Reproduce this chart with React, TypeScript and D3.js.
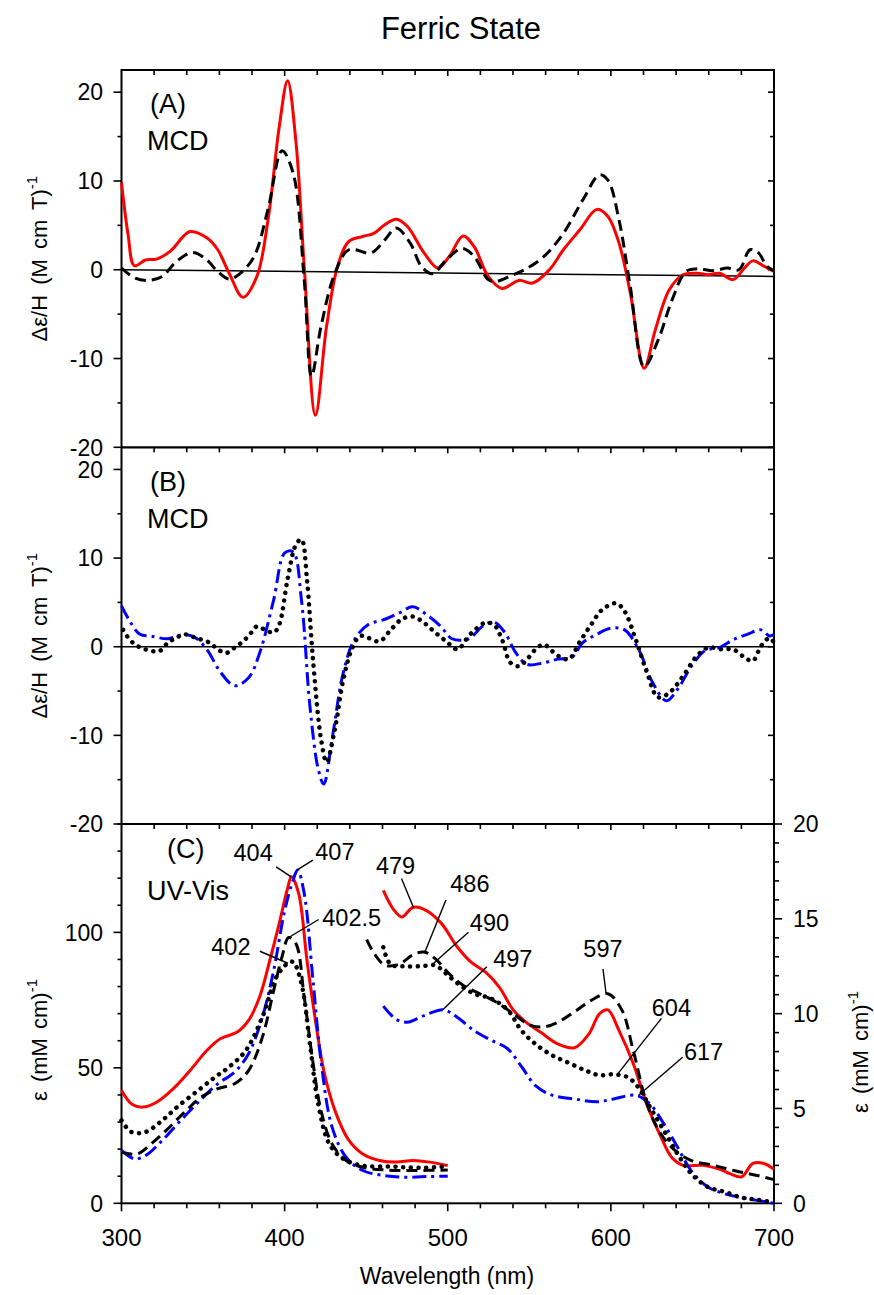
import React from 'react';
import * as d3 from 'd3';

type Pt = [number, number];

// ---- panel A : MCD (red solid, black dashed) ----
const mcdARed: Pt[] = [
  [300, 9.8], [304, 4], [307.9, 0.45], [314.7, 1.1], [321.5, 1.2], [330, 2.1], [342, 4.3], [352.3, 3.6],
  [359, 2.25], [366, -0.4], [374.5, -3.1], [383, -0.75], [389.8, 5.6], [396.7, 16.1], [401.8, 21.3],
  [407, 14.3], [412, 0.4], [418.9, -16.4], [425.7, -6.4], [432.5, 0.4], [439.4, 3.2], [447.9, 3.75],
  [454.7, 4.1], [461.6, 5.1], [468.4, 5.7], [475.2, 4.9], [485.5, 1.9], [494, 0.2], [500.9, 1.5],
  [509.4, 3.8], [516.2, 2.6], [524.8, -0.75], [533.3, -2.1], [543.6, -1.2], [552, -1.5], [562.3, 0],
  [570.9, 2.25], [581, 4.5], [591.4, 6.8], [598.2, 6.0], [605, 3.0], [611.9, -2.6], [620.4, -11.1],
  [627.2, -6.8], [635.8, -2.25], [644.3, -0.56], [652.9, -0.4], [659.7, -0.56], [666.5, -0.4],
  [675, -1.1], [681.9, 0.2], [687, 1.0], [693.8, 0.4], [700, -0.2],
];
const mcdADash: Pt[] = [
  [300, 0.2], [307.9, -0.9], [316.4, -1.2], [325, -0.75], [333.5, 0.9], [343.7, 1.95], [352.3, 1.1],
  [359, -0.2], [366, -1.05], [372.8, -0.4], [381.3, 1.5], [389.8, 6.8], [398.4, 13.4], [405.2, 10.9],
  [412, -1.1], [416.5, -12.0], [422.3, -6.4], [430.8, -0.4], [439.4, 2.25], [453, 1.9], [461.6, 3.4],
  [468.4, 4.7], [477, 3.0], [483.8, 0.4], [490.6, -0.45], [499.1, 1.1], [508.7, 2.4], [516.2, 1.5],
  [524.8, -1.1], [529.9, -1.3], [538.4, -0.7], [547, 0], [559, 1.5], [570.9, 4.1], [582.9, 7.9],
  [593.1, 10.7], [598.2, 10.1], [605, 5.6], [611.9, -1.9], [620.4, -10.9], [629, -7.9], [637.5, -3.4],
  [646, -0.2], [652.9, 0.1], [663, -0.1], [671.5, 0.2], [678.5, 0], [685.3, 2.25], [690.5, 1.9],
  [695.6, 0.4], [700, -0.1],
];
const mcdABase: Pt[] = [[300, 0], [700, -0.75]];

// ---- panel B : MCD (blue dash-dot, black dotted) ----
const mcdBBlue: Pt[] = [
  [300, 4.6], [304.4, 3.1], [311.3, 1.4], [318.1, 1.2], [328.4, 0.9], [338.6, 1.4], [345.4, 1.0],
  [352.3, -0.3], [360.8, -2.9], [369.3, -4.4], [377.9, -3.5], [384.7, -0.7], [393.3, 5.3], [400.1, 10.6],
  [405.2, 10.7], [410.3, 5.3], [415.5, -6.7], [420.6, -13.8], [424, -15.5], [429.1, -10.4], [436, -2.9],
  [442.8, 0.8], [451.3, 2.5], [461.6, 3.1], [470.1, 3.8], [478.6, 4.5], [487.2, 3.6], [495.7, 2.3],
  [502.6, 0.9], [512.8, 0.9], [521.3, 2.3], [528.2, 2.8], [535, 1.6], [541.8, -0.7], [548.7, -2.0],
  [558.9, -1.8], [567.5, -1.4], [576, -1.2], [582.8, 0.45], [591.4, 1.4], [599.9, 2.1], [608.4, 1.9],
  [617, -0.3], [625.5, -4.0], [634, -6.1], [640.9, -4.8], [649.4, -2.2], [657.9, -0.4], [666.5, -0.1],
  [675, 0.8], [683.6, 1.4], [692.1, 1.9], [697.3, 1.2], [700, 1.4],
];
const mcdBDot: Pt[] = [
  [301, 1.9], [305, 0.8], [309.6, 0.1], [314.7, -0.3], [323.2, -0.5], [328.4, 0.45], [333.5, 1.0],
  [338.6, 1.4], [345.4, 1.0], [354, 0.45], [359, -0.3], [364.2, -0.7], [369.3, -0.1], [374.5, 0.6],
  [379.6, 1.6], [383, 2.3], [388.1, 1.9], [393.3, 1.6], [396.7, 2.5], [401.8, 7.6], [406.9, 11.5],
  [410.3, 12.1], [413.7, 7.6], [417.2, -1.0], [422.3, -10.4], [425.7, -13.0], [430.8, -9.3], [436, -3.7],
  [441.1, -0.3], [446.2, 1.2], [451.3, 1.0], [458.2, 0.6], [465, 1.9], [471.8, 3.1], [478.6, 3.4],
  [485.5, 2.7], [492.3, 1.6], [499.1, 0.6], [506, -0.3], [512.8, 1.2], [517.9, 2.1], [523, 2.7],
  [528.2, 2.5], [533.3, 0.8], [538.4, -1.8], [543.6, -2.2], [548.7, -1.4], [553.8, -0.3], [558.9, 0.25],
  [564, -0.5], [569.2, -1.2], [574.3, -1.4], [581.1, 0.6], [587.9, 2.5], [594.8, 4.2], [603.3, 4.9],
  [608.4, 4.0], [615.3, 0.8], [622.1, -2.9], [628.9, -5.7], [635.8, -5.2], [644.3, -3.3], [652.9, -1.0],
  [659.7, -0.1], [668.2, -0.3], [675, -0.3], [681.9, -1.2], [687, -1.6], [692.1, 0.1], [697.3, 1.0],
  [700, 0.45],
];
const mcdBBase: Pt[] = [[300, 0], [700, 0]];

// ---- panel C : UV-Vis, Soret region (left axis, mM^-1 cm^-1) ----
const soretRed: Pt[] = [
  [300, 41.7], [306.1, 36.7], [313, 35.5], [321.5, 37.3], [331.8, 42.3], [342, 49], [352.3, 56.4],
  [360.8, 60.8], [371, 63.2], [377.9, 67.5], [384.7, 76.2], [391.5, 91], [396.7, 103.3], [401.8, 116.2],
  [404.2, 120.5], [408.6, 114.4], [413.7, 89.7], [418.9, 67.5], [424, 49], [430.8, 34.3], [439.4, 23.2],
  [447.9, 18.2], [458.2, 15.8], [468.4, 15.2], [478.6, 15.8], [488.9, 15.2], [500, 13.9],
];
const soretBlue: Pt[] = [
  [300, 19.5], [307.9, 16.4], [314.7, 17.6], [325, 23.2], [335.2, 29.9], [347.1, 37.3], [359, 44.1],
  [369.3, 48.4], [377.9, 55.2], [386.4, 68.8], [393.3, 86], [400.1, 108.2], [405.2, 119.3], [408, 123],
  [412, 114.4], [417.2, 83.6], [422.3, 52.7], [429.1, 28.1], [437.7, 17], [447.9, 12.1], [461.6, 10.2],
  [475.2, 9.6], [488.9, 9.9], [500, 10],
];
const soretDash: Pt[] = [
  [300, 18.9], [309.6, 18.2], [318.1, 21.9], [328.4, 27.5], [338.6, 33.6], [348.9, 39.2], [359, 42.3],
  [369.3, 44.1], [377.9, 49], [386.4, 61.4], [393.3, 78.6], [398.4, 91], [402.5, 98.1], [406.9, 95.9],
  [412, 76.2], [417.2, 52.7], [422.3, 34.3], [429.1, 21.9], [437.7, 15.8], [447.9, 13.3], [461.6, 12.3],
  [478.6, 12.1], [500, 12.3],
];
const soretDot: Pt[] = [
  [300, 30.6], [306.1, 26.3], [314.7, 26.3], [325, 30.6], [335.2, 36.1], [347.1, 41.7], [357.4, 46.6],
  [365.9, 50.3], [376.2, 56.4], [386.4, 68.8], [395, 83.6], [401.8, 88.5], [405.2, 89.1], [410.3, 81.1],
  [415.5, 58.9], [420.6, 36.7], [427.4, 21.9], [436, 16.4], [447.9, 13.9], [465, 13.6], [482.1, 13.1],
  [500, 13.6],
];

// ---- panel C : visible region (right axis, mM^-1 cm^-1) ----
const visRed: Pt[] = [
  [460.5, 16.5], [466.7, 15.5], [471.8, 15.1], [478.6, 15.6], [485.5, 15.5], [495.7, 14.8], [506, 13.5],
  [514.5, 12.7], [523, 12.2], [531.6, 11.4], [540.1, 10.2], [548.7, 9.5], [557.2, 9.0], [567.5, 8.4],
  [577.7, 8.2], [586.3, 8.9], [593.1, 10.0], [598.2, 10.2], [605, 9.1], [613.6, 7.4], [622.1, 5.2],
  [630.7, 3.5], [637.5, 2.4], [644.3, 2.0], [656.3, 2.0], [666.5, 1.8], [673.3, 1.55], [680.2, 1.4],
  [687, 2.1], [693.8, 2.1], [700, 1.8],
];
const visDash: Pt[] = [
  [450.3, 13.9], [454.7, 13.2], [461.6, 12.55], [470.1, 12.6], [478.6, 13.1], [485.5, 13.25], [492.3, 12.9],
  [500.9, 12.1], [509.4, 11.5], [519.6, 11.05], [529.9, 10.6], [540.1, 10.0], [550.4, 9.4], [558.9, 9.3],
  [567.5, 9.55], [577.7, 10.1], [587.9, 10.7], [598.2, 11.05], [606.7, 10.2], [613.6, 8.1], [622.1, 5.25],
  [630.7, 3.65], [639.2, 2.8], [649.4, 2.25], [663, 2.0], [676.7, 1.7], [690.5, 1.45], [700, 1.25],
];
const visDot: Pt[] = [
  [460.5, 13.5], [465, 12.6], [473.5, 12.5], [483.8, 12.5], [492.3, 12.55], [499.1, 12.1], [506, 11.6],
  [516.2, 11.05], [526.5, 10.8], [536.7, 10.2], [545.3, 9.1], [553.8, 8.4], [564, 7.8], [574.3, 7.4],
  [584.5, 7.0], [593.1, 6.75], [601.6, 6.8], [610.2, 6.65], [617, 6.1], [623.8, 5.1], [632.4, 3.85],
  [640.9, 2.6], [649.4, 1.55], [659.7, 0.85], [670, 0.6], [680.2, 0.3], [690.5, 0.18], [700, 0.05],
];
const visBlue: Pt[] = [
  [460.5, 10.4], [468.4, 9.7], [475.2, 9.55], [485.5, 9.9], [497.4, 10.2], [506, 9.8], [516.2, 9.1],
  [526.5, 8.6], [536.7, 8.15], [545.3, 7.2], [553.8, 6.2], [564, 5.7], [577.7, 5.5], [591.4, 5.35],
  [601.6, 5.5], [615.3, 5.7], [623.8, 5.25], [632.4, 4.2], [640.9, 2.95], [649.4, 1.7], [659.7, 0.85],
  [670, 0.5], [680.2, 0.3], [690.5, 0.14], [700, 0],
];

// ---- ticks ----
const wlTicks = [300, 400, 500, 600, 700];
const mcdTicks = [-20, -10, 0, 10, 20];
const soretTicks = [0, 50, 100];
const visTicks = [0, 5, 10, 15, 20];

// ---- peak labels (panel C) ----
const peakLabels = [
  { text: '404', nm: 404, value: 120.5, axis: 'left' },
  { text: '407', nm: 407.5, value: 123, axis: 'left' },
  { text: '402.5', nm: 402.5, value: 98.1, axis: 'left' },
  { text: '402', nm: 402, value: 88.6, axis: 'left' },
  { text: '479', nm: 479, value: 15.6, axis: 'right' },
  { text: '486', nm: 486, value: 13.25, axis: 'right' },
  { text: '490', nm: 490, value: 12.55, axis: 'right' },
  { text: '497', nm: 497, value: 10.2, axis: 'right' },
  { text: '597', nm: 597, value: 11.1, axis: 'right' },
  { text: '604', nm: 604, value: 6.8, axis: 'right' },
  { text: '617', nm: 617, value: 5.7, axis: 'right' },
];
// label / leader-start offsets (px) from the peak
const labelOffsets: Record<string, { tx: number; ty: number; sx: number; sy: number }> = {
  '404': { tx: -38, ty: -24, sx: -15, sy: -10 },
  '407': { tx: 38, ty: -19, sx: 16, sy: -10 },
  '402.5': { tx: 63, ty: -20, sx: 30, sy: -18 },
  '402': { tx: -57, ty: -17, sx: -28, sy: -12 },
  '479': { tx: -18, ty: -42, sx: -12, sy: -29 },
  '486': { tx: 45, ty: -68, sx: 21, sy: -52 },
  '490': { tx: 58, ty: -43, sx: 37, sy: -33 },
  '497': { tx: 70, ty: -51, sx: 44, sy: -43 },
  '597': { tx: -3, ty: -44, sx: -3, sy: -24 },
  '604': { tx: 54, ty: -67, sx: 44, sy: -56 },
  '617': { tx: 65, ty: -44, sx: 44, sy: -38 },
};

const FONT = '"Liberation Sans", Arial, sans-serif';
const L = 121.5, R = 774;
const yTopA = 70, yTopB = 447.3, yTopC = 824, yBot = 1203.3;

const lineStyles: Record<string, any> = {
  red: { stroke: '#ff0000', strokeWidth: 3 },
  dash: { stroke: '#000', strokeWidth: 3, strokeDasharray: '11 6' },
  dashdot: { stroke: '#0000ff', strokeWidth: 3, strokeDasharray: '14 5 3 5' },
  dot: { stroke: '#000', strokeWidth: 4.5, strokeDasharray: '0.1 7.6', strokeLinecap: 'round' },
};

export default function App() {
  const x = d3.scaleLinear().domain([300, 700]).range([L, R]);
  const yA = d3.scaleLinear().domain([-20, 22.5]).range([yTopB, yTopA]);
  const yB = d3.scaleLinear().domain([-20, 22.5]).range([yTopC, yTopB]);
  const yCL = d3.scaleLinear().domain([0, 140]).range([yBot, yTopC]);
  const yCR = d3.scaleLinear().domain([0, 20]).range([yBot, yTopC]);

  const line = (y: d3.ScaleLinear<number, number>) =>
    d3.line<Pt>().x(d => x(d[0])).y(d => y(d[1])).curve(d3.curveCatmullRom.alpha(0.5));

  const curve = (data: Pt[], y: any, style: string, key: string) => (
    <path key={key} d={line(y)(data) || ''} fill="none" strokeLinejoin="round" {...lineStyles[style]} />
  );

  const minorWl = d3.range(300, 701, 20);

  // left y ticks, outward
  const yTicks = (y: any, major: number[], minorStep: number, dom: [number, number], key: string) => {
    const minor = d3.range(dom[0], dom[1] + 0.001, minorStep);
    return (
      <g key={key}>
        {minor.map(v => {
          const len = major.includes(v) ? 8 : 4;
          return <line key={'l' + v} x1={L - len} x2={L} y1={y(v)} y2={y(v)} stroke="#000" strokeWidth={1.6} />;
        })}
      </g>
    );
  };

  const rightTicks = (y: any, values: number[], majors: number[], outward: boolean, key: string) => (
    <g key={key}>
      {values.map(v => {
        const len = majors.includes(v) ? (outward ? 8 : 6) : (outward ? 5 : 4);
        return (
          <line key={v} x1={R} x2={outward ? R + len : R - len} y1={y(v)} y2={y(v)} stroke="#000" strokeWidth={1.6} />
        );
      })}
    </g>
  );

  const topTicks = (yy: number, key: string) => (
    <g key={key}>
      {minorWl.slice(1, -1).map(v => (
        <line key={v} x1={x(v)} x2={x(v)} y1={yy} y2={yy + (v % 100 === 0 ? 6 : 5)} stroke="#000" strokeWidth={1.6} />
      ))}
    </g>
  );

  const leftLabels = (y: any, vals: number[], key: string) => (
    <g key={key} fontFamily={FONT} fontSize={23} textAnchor="end">
      {vals.map(v => (
        <text key={v} x={103} y={y(v)} dy="0.36em">{v}</text>
      ))}
    </g>
  );

  const ylabelMcd = (cy: number, key: string) => (
    <text key={key} transform={`translate(47,${cy}) rotate(-90)`} fontFamily={FONT} fontSize={22}
      textAnchor="middle" wordSpacing="4">
      Δε/H (M cm T)<tspan fontSize={15} dy={-10}>-1</tspan>
    </text>
  );

  return (
    <svg width={874} height={1295} style={{ position: 'absolute', left: 0, top: 0, background: '#fff' }}>
      <rect x={0} y={0} width={874} height={1295} fill="#fff" />
      <text x={461} y={39} fontFamily={FONT} fontSize={31} textAnchor="middle">Ferric State</text>

      {/* frames */}
      <rect x={L} y={yTopA} width={R - L} height={yBot - yTopA} fill="none" stroke="#000" strokeWidth={2} />
      <line x1={L} x2={R} y1={yTopB} y2={yTopB} stroke="#000" strokeWidth={2.2} />
      <line x1={L} x2={R} y1={yTopC} y2={yTopC} stroke="#000" strokeWidth={2.2} />

      {/* x ticks */}
      {topTicks(yTopA, 'ta')}
      {topTicks(yTopB, 'tb')}
      {topTicks(yTopC, 'tc')}
      {minorWl.map(v => (
        <line key={'b' + v} x1={x(v)} x2={x(v)} y1={yBot} y2={yBot + (v % 100 === 0 ? 8 : 5)} stroke="#000" strokeWidth={1.6} />
      ))}
      <g fontFamily={FONT} fontSize={24} textAnchor="middle">
        {wlTicks.map(v => (
          <text key={v} x={x(v)} y={1246}>{v}</text>
        ))}
      </g>
      <text x={447} y={1284} fontFamily={FONT} fontSize={23} textAnchor="middle">Wavelength (nm)</text>

      {/* panel A */}
      {yTicks(yA, mcdTicks, 5, [-20, 20], 'ya')}
      {rightTicks(yA, d3.range(-20, 21, 5), mcdTicks, false, 'ra')}
      {leftLabels(yA, mcdTicks, 'la')}
      {ylabelMcd((yTopA + yTopB) / 2, 'yla')}
      <text x={150} y={113} fontFamily={FONT} fontSize={27}>(A)</text>
      <text x={147} y={150} fontFamily={FONT} fontSize={27}>MCD</text>
      <path d={line(yA)(mcdABase) || ''} stroke="#000" strokeWidth={1.5} fill="none" />
      {curve(mcdARed, yA, 'red', 'ar')}
      {curve(mcdADash, yA, 'dash', 'ad')}

      {/* panel B */}
      {yTicks(yB, mcdTicks, 5, [-20, 20], 'yb')}
      {rightTicks(yB, d3.range(-20, 21, 5), mcdTicks, false, 'rb')}
      {leftLabels(yB, mcdTicks, 'lb')}
      {ylabelMcd((yTopB + yTopC) / 2, 'ylb')}
      <text x={150} y={491} fontFamily={FONT} fontSize={27}>(B)</text>
      <text x={147} y={528} fontFamily={FONT} fontSize={27}>MCD</text>
      <path d={line(yB)(mcdBBase) || ''} stroke="#000" strokeWidth={1.5} fill="none" />
      {curve(mcdBBlue, yB, 'dashdot', 'bb')}
      {curve(mcdBDot, yB, 'dot', 'bd')}

      {/* panel C */}
      {yTicks(yCL, soretTicks, 10, [0, 140], 'yc')}
      {rightTicks(yCR, d3.range(0, 20.5, 1), visTicks, true, 'rc')}
      {leftLabels(yCL, soretTicks, 'lc')}
      <g fontFamily={FONT} fontSize={23} textAnchor="start">
        {visTicks.map(v => (
          <text key={v} x={793} y={yCR(v)} dy="0.36em">{v}</text>
        ))}
      </g>
      <text transform={`translate(47,1040) rotate(-90)`} fontFamily={FONT} fontSize={22} textAnchor="middle" wordSpacing="3">
        ε (mM cm)<tspan fontSize={15} dy={-10}>-1</tspan>
      </text>
      <text transform={`translate(868,1052) rotate(-90)`} fontFamily={FONT} fontSize={22} textAnchor="middle" wordSpacing="3">
        ε (mM cm)<tspan fontSize={15} dy={-10}>-1</tspan>
      </text>
      <text x={167} y={858} fontFamily={FONT} fontSize={27}>(C)</text>
      <text x={147} y={900} fontFamily={FONT} fontSize={27}>UV-Vis</text>

      {curve(soretRed, yCL, 'red', 'cr')}
      {curve(soretBlue, yCL, 'dashdot', 'cb')}
      {curve(soretDash, yCL, 'dash', 'cd')}
      {curve(soretDot, yCL, 'dot', 'co')}
      {curve(visRed, yCR, 'red', 'vr')}
      {curve(visBlue, yCR, 'dashdot', 'vb')}
      {curve(visDash, yCR, 'dash', 'vd')}
      {curve(visDot, yCR, 'dot', 'vo')}

      {peakLabels.map(p => {
        const y = p.axis === 'left' ? yCL : yCR;
        const px = x(p.nm), py = y(p.value);
        const o = labelOffsets[p.text];
        return (
          <g key={p.text}>
            <line x1={px + o.sx} y1={py + o.sy} x2={px} y2={py} stroke="#000" strokeWidth={1.4} />
            <text x={px + o.tx} y={py + o.ty} dy="0.36em" fontFamily={FONT} fontSize={23.5} textAnchor="middle">{p.text}</text>
          </g>
        );
      })}
    </svg>
  );
}
